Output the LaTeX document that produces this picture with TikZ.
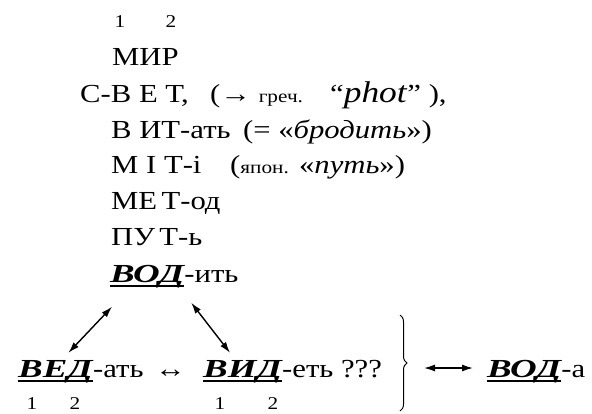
\documentclass[tikz,border=0pt]{standalone}
\usepackage{fontspec}
\setmainfont{Liberation Serif}[FakeStretch=1.18]
\newfontfamily\rootfont{Liberation Serif}[FakeStretch=1.42]
\usetikzlibrary{positioning}
\usetikzlibrary{calc}
\usetikzlibrary{arrows.meta}
\usetikzlibrary{decorations.pathreplacing}
\tikzset{word/.style={anchor=base west,inner sep=0pt,font=\fontsize{26}{30}\selectfont},
digit/.style={anchor=base,inner sep=0pt,font=\fontsize{18}{20}\selectfont},
twoway/.style={{Latex[length=11pt,width=7pt]}-{Latex[length=11pt,width=7pt]},line width=1.4pt}}
\newcommand{\kor}[1]{\setbox0=\hbox{\rootfont\bfseries\itshape #1}\rlap{\rule[-4.5pt]{\wd0}{1.6pt}}\box0}
\newcommand{\mel}{\fontsize{18}{20}\selectfont}

\begin{document}
\begin{tikzpicture}[x=1pt,y=-1pt]
\useasboundingbox (0,0) rectangle (592,413);
% root with letter numbers
\node (d1) at (120,27) [digit] {1};
\node (d2) at (171,27) [digit] {2};
\node (mir) at (112,65) [word] {МИР};
\node (svet) at (80,102) [word] {С-В Е Т,};
\node (svetgr) at (210,102) [word] {(→ {\mel греч.}};
\node (phot) at (330,102) [word] {“\textit{\fontsize{30}{32}\selectfont phot}” ),};
\node (vit) at (111,138) [word] {В ИТ-ать};
\node (vitgl) at ([xshift=12pt]vit.base east) [word] {(= «\textit{бродить}»)};
\node (mit) at (111,173) [word] {М I Т-i};
\node (mitjp) at (230,173) [word] {({\mel япон.} «\textit{путь}»)};
\node (met) at (111,209) [word] {МЕ\,Т-од};
\node (put) at (111,245) [word] {ПУ\,Т-ь};

% the three roots
\node (vodroot) at (110,282) [word] {\kor{ВОД}};
\node (vodend) at (vodroot.base east) [word] {-ить};
\node (vedroot) at (18,377) [word] {\kor{ВЕД}};
\node (vedend) at (vedroot.base east) [word] {-ать};
\node (mid) at (155,377) [word] {↔};
\node (vidroot) at (203,377) [word] {\kor{ВИД}};
\node (vidend) at (vidroot.base east) [word] {-еть ???};
\node (vodaroot) at (487,377) [word] {\kor{ВОД}};
\node (vodaend) at (vodaroot.base east) [word] {-а};
\node (e1) at (32,409) [digit] {1};
\node (e2) at (75,409) [digit] {2};
\node (i1) at (220,409) [digit] {1};
\node (i2) at (273,409) [digit] {2};

\draw [twoway] ([shift={(2,19)}]vodroot.south west) -- ([shift={(13,-7)}]vedroot.north);
\draw [twoway] ([shift={(7,15)}]vodroot.south east) -- ([shift={(27,-7)}]vidroot.north west);
\draw [line width=1pt,decorate,decoration={brace,amplitude=7pt}] (400,315) -- (400,411);
\coordinate (bracetip) at (408,368);
\draw [twoway,shorten <=16pt,shorten >=14pt] (bracetip) -- (bracetip -| vodaroot.west);
\end{tikzpicture}
\end{document}
